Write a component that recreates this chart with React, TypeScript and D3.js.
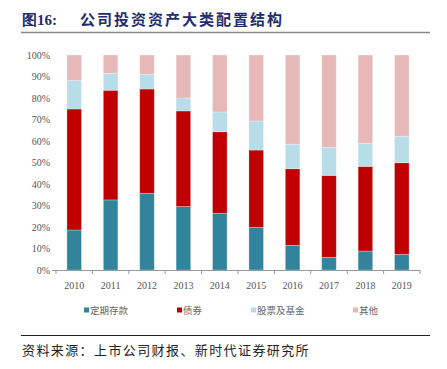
import React from "react";
import * as d3 from "d3";

const years = ["2010","2011","2012","2013","2014","2015","2016","2017","2018","2019"];
const seriesNames = ["定期存款","债券","股票及基金","其他"];
const deposits = [18.6, 32.6, 35.7, 29.5, 26.4, 19.8, 11.5, 5.9, 8.8, 7.3];
const bonds = [56.3, 51.0, 48.5, 44.5, 37.9, 36.0, 35.6, 38.1, 39.4, 42.6];
const equities = [13.3, 7.9, 6.8, 6.0, 9.2, 13.5, 11.4, 13.1, 10.7, 12.3];
const others = [11.8, 8.5, 9.0, 20.0, 26.5, 30.7, 41.5, 42.9, 41.1, 37.8];
const yTicks = [0,10,20,30,40,50,60,70,80,90,100];
const colors = ["#31849B", "#C00000", "#B7DDE8", "#E6B9B8"];

export default function App() {
  const W = 447, H = 369;
  const x0 = 56, x1 = 420, yTop = 55, yBot = 270;
  const x = d3.scaleBand<string>().domain(years).range([x0, x1]).paddingInner(0.6).paddingOuter(0.3);
  const y = d3.scaleLinear().domain([0, 100]).range([yBot, yTop]);
  const rows = years.map((yr, i) => ({ year: yr, s0: deposits[i], s1: bonds[i], s2: equities[i], s3: others[i] }));
  const stack = d3.stack<any>().keys(["s0","s1","s2","s3"]);
  const layers = stack(rows);
  const step = (x1 - x0) / years.length;
  const legendX = [84, 177, 251, 353];
  const font = "'Liberation Serif', 'DejaVu Serif', serif";
  const cjk = "'Noto Sans CJK SC', sans-serif";
  return (
    <svg width={W} height={H} style={{ position: "absolute", left: 0, top: 0 }}>
      <rect width={W} height={H} fill="#fff" />
      <text x={22} y={25} fontFamily={font} fontWeight="bold" fontSize={15} fill="#1F2D6E">图16:</text>
      <text x={80} y={25} fontFamily={cjk} fontWeight="bold" fontSize={15} fill="#1F2D6E" letterSpacing={2}>公司投资资产大类配置结构</text>
      <line x1={21} x2={430} y1={32.5} y2={32.5} stroke="#888" strokeWidth={1.5} />
      {layers.map((layer, li) => (
        <g key={li}>
          {layer.map((d, i) => (
            <rect key={i} x={x(years[i])} width={x.bandwidth()} y={y(d[1])} height={y(d[0]) - y(d[1])}
              fill={colors[li]} stroke="#fff" strokeOpacity={0.35} strokeWidth={0.8} />
          ))}
        </g>
      ))}
      <line x1={52} x2={x1} y1={yBot + 0.5} y2={yBot + 0.5} stroke="#999" strokeWidth={1} />
      {d3.range(years.length + 1).map(i => (
        <line key={i} x1={x0 + i * step} x2={x0 + i * step} y1={yBot} y2={yBot + 4} stroke="#999" strokeWidth={1} />
      ))}
      {yTicks.map(t => (
        <text key={t} x={50} y={y(t) + 3.5} textAnchor="end" fontFamily={font} fontSize={10} fill="#555">{t}%</text>
      ))}
      {years.map(yr => (
        <text key={yr} x={(x(yr) as number) + x.bandwidth() / 2} y={289} textAnchor="middle" fontFamily={font} fontSize={10} fill="#555">{yr}</text>
      ))}
      {seriesNames.map((n, i) => (
        <g key={n}>
          <rect x={legendX[i]} y={307.5} width={5} height={5} fill={colors[i]} />
          <text x={legendX[i] + 6} y={313.5} fontFamily={cjk} fontSize={9.5} fill="#666">{n}</text>
        </g>
      ))}
      <line x1={21} x2={430} y1={335.5} y2={335.5} stroke="#222" strokeWidth={1} />
      <text x={22} y={355} fontFamily={cjk} fontSize={13} fill="#222" letterSpacing={1.4}>资料来源：上市公司财报、新时代证券研究所</text>
    </svg>
  );
}
